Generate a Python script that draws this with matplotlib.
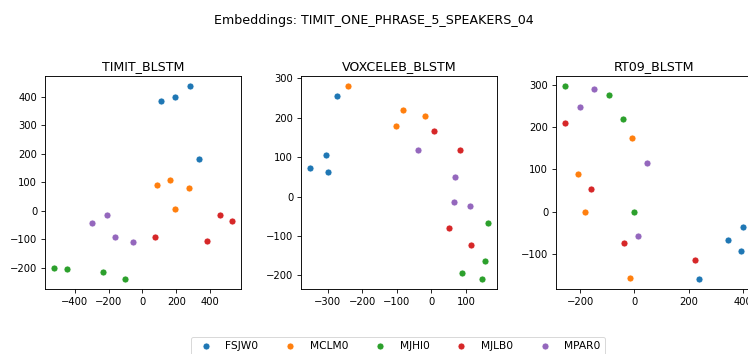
import matplotlib
matplotlib.use("Agg")
import matplotlib.pyplot as plt

# Hablantes y colores (tab10)
speakers = ["FSJW0", "MCLM0", "MJHI0", "MJLB0", "MPAR0"]
colors = ["#1f77b4", "#ff7f0e", "#2ca02c", "#d62728", "#9467bd"]

titles = ["TIMIT_BLSTM", "VOXCELEB_BLSTM", "RT09_BLSTM"]

# Coordenadas de los embeddings, 4 puntos por hablante
timit_x = {
    "FSJW0": [111, 193, 281, 334],
    "MCLM0": [86, 163, 277, 193],
    "MJHI0": [-523, -446, -233, -105],
    "MJLB0": [76, 382, 460, 529],
    "MPAR0": [-299, -209, -165, -56],
}
timit_y = {
    "FSJW0": [386, 400, 438, 182],
    "MCLM0": [91, 109, 78, 5],
    "MJHI0": [-200, -205, -215, -240],
    "MJLB0": [-92, -106, -16, -36],
    "MPAR0": [-44, -14, -92, -111],
}

vox_x = {
    "FSJW0": [-352, -304, -301, -273],
    "MCLM0": [-242, -83, -20, -103],
    "MJHI0": [164, 156, 87, 146],
    "MJLB0": [8, 84, 52, 115],
    "MPAR0": [-38, 69, 66, 113],
}
vox_y = {
    "FSJW0": [71, 105, 63, 256],
    "MCLM0": [281, 219, 203, 178],
    "MJHI0": [-66, -164, -193, -210],
    "MJLB0": [166, 119, -79, -124],
    "MPAR0": [118, 49, -14, -24],
}

rt09_x = {
    "FSJW0": [400, 343, 391, 238],
    "MCLM0": [-10, -206, -183, -16],
    "MJHI0": [-256, -92, -43, 0],
    "MJLB0": [-254, -160, -38, 222],
    "MPAR0": [-149, -199, 47, 14],
}
rt09_y = {
    "FSJW0": [-37, -67, -94, -160],
    "MCLM0": [175, 90, 0, -156],
    "MJHI0": [298, 275, 219, 0],
    "MJLB0": [209, 54, -75, -114],
    "MPAR0": [290, 248, 116, -58],
}

all_x = [timit_x, vox_x, rt09_x]
all_y = [timit_y, vox_y, rt09_y]

fig = plt.figure(figsize=[7.48, 3.54], dpi=100)
fig.suptitle("Embeddings: TIMIT_ONE_PHRASE_5_SPEAKERS_04", fontsize=9.1, y=0.96)

# Posiciones de los ejes (la tercera se sale por la derecha, como en el original)
lefts = [45 / 748, 301 / 748, 556 / 748]
for k in range(3):
    ax = fig.add_axes([lefts[k], 1 - 289 / 354, 196 / 748, 213 / 354])
    for s, c in zip(speakers, colors):
        ax.scatter(all_x[k][s], all_y[k][s], s=26, color=c,
                   edgecolor="white", linewidth=0.6, label=s)
    ax.set_title(titles[k], fontsize=9.1, pad=4.3)
    ax.tick_params(labelsize=7.2, length=2.8, pad=2.8, width=0.6)
    for sp in ax.spines.values():
        sp.set_linewidth(0.65)
    if k == 0:
        handles, labels = ax.get_legend_handles_labels()

leg = fig.legend(handles, labels, loc="upper center", ncol=5,
                 bbox_to_anchor=(0.532, 1 - 337 / 354), fontsize=7.7,
                 borderaxespad=0)
leg.get_frame().set_linewidth(0.65)

fig.savefig("out.png", dpi=100)
